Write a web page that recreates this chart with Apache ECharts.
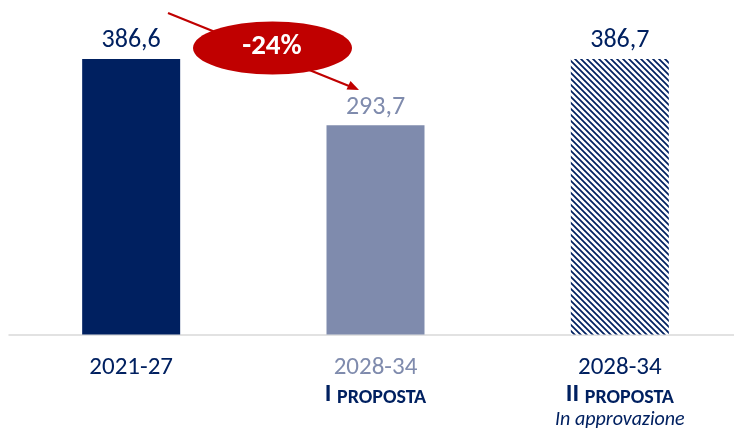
<!DOCTYPE html>
<html><head><meta charset="utf-8">
<script src="https://cdn.jsdelivr.net/npm/echarts@6/dist/echarts.min.js"></script>
<style>html,body{margin:0;padding:0;background:#fff;overflow:hidden;width:734px;height:430px}#c{width:742px;height:430px}</style>
</head><body><div id="c"></div>
<script>
const categories = ['2021-27', '2028-34', '2028-34'];
const subtitles = ['', 'I PROPOSTA', 'II PROPOSTA'];
const notes = ['', '', 'In approvazione'];
const values = [386.6, 293.7, 386.7];
const changeLabel = '-24%';

const NAVY = '#002060';
const GREY = '#7F8BAD';
const RED = '#C00000';

// hatch pattern
const pc = document.createElement('canvas');
pc.width = 6; pc.height = 6;
const px = pc.getContext('2d');
px.fillStyle = '#fff'; px.fillRect(0,0,6,6);
px.strokeStyle = NAVY; px.lineWidth = 1.7;
px.beginPath();
px.moveTo(-1,-1); px.lineTo(7,7);
px.moveTo(-1,5); px.lineTo(1,7);
px.moveTo(5,-1); px.lineTo(7,1);
px.stroke();

const colors = [NAVY, GREY, {image: pc, repeat: 'repeat'}];
const labelColors = [NAVY, GREY, NAVY];

const chart = echarts.init(document.getElementById('c'), null, {renderer: 'canvas'});
const FONT = "'Carlito','Liberation Sans Narrow','DejaVu Sans Condensed',sans-serif";
chart.setOption({
  animation: false,
  grid: {left: 9, right: 0, top: 49.4, bottom: 95},
  xAxis: {
    type: 'category', data: categories,
    axisLine: {lineStyle: {color: '#D9D9D9', width: 1.5}},
    axisTick: {show: false},
    axisLabel: {
      margin: 20, interval: 0,
      formatter: function (v, i) {
        const t = i === 1 ? 'g' : 'n';
        let s = '{' + t + '|' + v + '}';
        if (subtitles[i]) {
          const parts = subtitles[i].split(' ');
          s += '\n{r|' + parts[0] + ' }{s|' + parts.slice(1).join(' ') + '}';
        }
        if (notes[i]) s += '\n{i|' + notes[i] + '}';
        return s;
      },
      rich: {
        n: {fontSize: 25, color: NAVY, fontFamily: FONT, lineHeight: 27},
        g: {fontSize: 25, color: GREY, fontFamily: FONT, lineHeight: 27},
        r: {fontSize: 25, color: NAVY, fontWeight: 'bold', fontFamily: FONT, lineHeight: 26, verticalAlign: 'bottom'},
        s: {fontSize: 20, color: NAVY, fontWeight: 'bold', fontFamily: FONT, lineHeight: 26, verticalAlign: 'bottom'},
        i: {fontSize: 20, color: NAVY, fontStyle: 'italic', fontFamily: FONT, lineHeight: 25}
      }
    }
  },
  yAxis: {type: 'value', min: 0, max: 400, show: false, splitLine: {show: false}},
  series: [{
    type: 'bar', barWidth: 98,
    data: values.map((v, i) => ({
      value: v,
      itemStyle: {color: colors[i]},
      label: {color: labelColors[i]}
    })),
    label: {
      show: true, position: 'top', distance: 5,
      fontSize: 26, fontFamily: FONT,
      formatter: p => p.value.toFixed(1).replace('.', ',')
    }
  }],
  graphic: [
    {type: 'line', shape: {x1: 168, y1: 13, x2: 349, y2: 86}, style: {stroke: RED, lineWidth: 2.2}, z: 10},
    {type: 'polygon', shape: {points: [[359, 90], [346.5, 89.5], [350.5, 81]]}, style: {fill: RED}, z: 10},
    {type: 'ellipse', shape: {cx: 272.5, cy: 48, rx: 79.5, ry: 26.5}, style: {fill: RED}, z: 11},
    {type: 'text', x: 272, y: 47, z: 12,
      style: {text: changeLabel, fill: '#fff', font: "bold 29px " + FONT, textAlign: 'center', textVerticalAlign: 'middle'}}
  ]
});
</script></body></html>
